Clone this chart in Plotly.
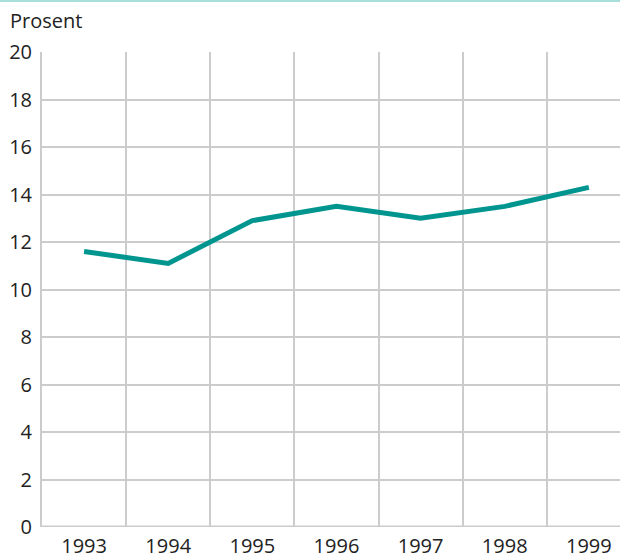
import plotly.graph_objects as go

years = [1993, 1994, 1995, 1996, 1997, 1998, 1999]
prosent = [11.6, 11.1, 12.9, 13.5, 13.0, 13.5, 14.3]
y_ticks = [0, 2, 4, 6, 8, 10, 12, 14, 16, 18, 20]

font = "Open Sans, Noto Sans, sans-serif"
fs = 20

fig = go.Figure()
fig.add_trace(go.Scatter(
    x=years, y=prosent, mode="lines",
    line=dict(color="#00968f", width=5),
    hoverinfo="skip", showlegend=False,
))

fig.update_layout(
    width=620, height=554,
    margin=dict(l=42, r=0, t=52, b=27),
    paper_bgcolor="white", plot_bgcolor="white",
    font=dict(family=font, size=fs, color="#222222"),
    xaxis=dict(
        range=[1992.5, 1999.37], automargin=False,
        tickvals=years, ticktext=[str(y) for y in years],
        showgrid=False, zeroline=False,
        showline=False, ticks="outside", ticklen=1, tickcolor="rgba(0,0,0,0)",
        minor=dict(tick0=1992.5, dtick=1, showgrid=True,
                   gridcolor="#cccccc", gridwidth=2),
        tickfont=dict(size=fs, color="#222222"),
        fixedrange=True,
    ),
    yaxis=dict(
        range=[0, 20], tickvals=y_ticks, automargin=False,
        showgrid=True, gridcolor="#cccccc", gridwidth=2,
        zeroline=False, showline=True, linecolor="#cccccc", linewidth=2,
        ticks="outside", ticklen=4, tickcolor="rgba(0,0,0,0)",
        tickfont=dict(size=fs, color="#222222"),
        fixedrange=True,
    ),
    shapes=[
        dict(type="line", xref="paper", yref="paper",
             x0=-42/578, x1=1, y0=1 + 51/475, y1=1 + 51/475,
             line=dict(color="#a8dedb", width=2)),
        dict(type="line", xref="paper", yref="y",
             x0=0, x1=1, y0=0, y1=0,
             line=dict(color="#cccccc", width=3)),
    ],
    annotations=[
        dict(text="Prosent", xref="paper", yref="paper",
             x=-34/578, y=1 + 32/475, xanchor="left", yanchor="middle",
             showarrow=False, font=dict(family=font, size=fs, color="#222222")),
    ],
)

fig.write_html("out.html", config={"displayModeBar": False},
               post_script="document.body.style.margin='0';document.body.style.overflow='hidden';")
